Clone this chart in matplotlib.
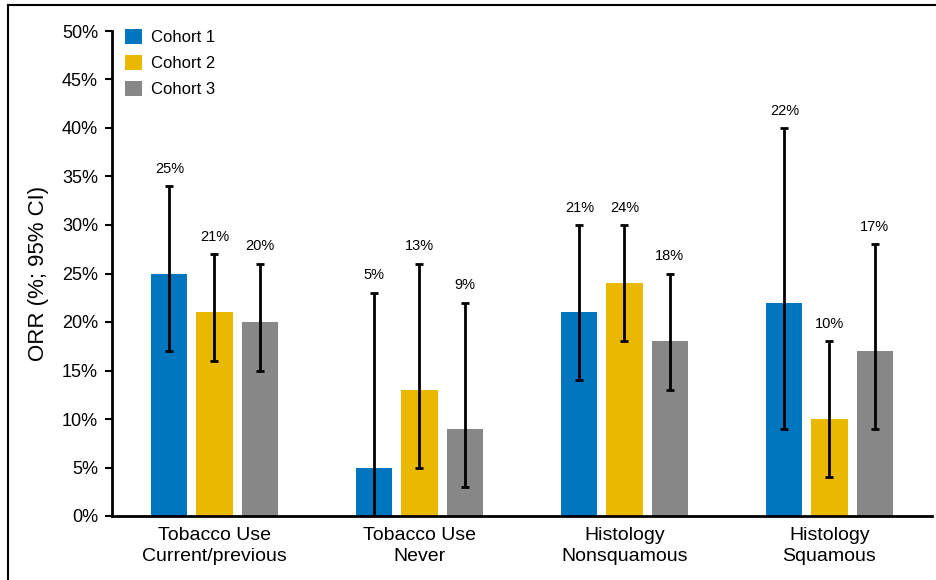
import matplotlib
matplotlib.use("Agg")
import matplotlib.pyplot as plt
from matplotlib.lines import Line2D
import numpy as np

categories = ["Tobacco Use\nCurrent/previous", "Tobacco Use\nNever",
              "Histology\nNonsquamous", "Histology\nSquamous"]
cohorts = ["Cohort 1", "Cohort 2", "Cohort 3"]
orr = [
    [25, 5, 21, 22],
    [21, 13, 24, 10],
    [20, 9, 18, 17],
]
ci_low = [
    [17, 0, 14, 9],
    [16, 5, 18, 4],
    [15, 3, 13, 9],
]
ci_high = [
    [34, 23, 30, 40],
    [27, 26, 30, 18],
    [26, 22, 25, 28],
]
yticks = [0, 5, 10, 15, 20, 25, 30, 35, 40, 45, 50]
colors = ["#0175BE", "#EBB800", "#878787"]

plt.rcParams['font.family'] = ['Liberation Sans', 'DejaVu Sans']

fig = plt.figure(figsize=(9.37, 5.8), dpi=100)
ax = fig.add_axes([112/937, 1-516/580, (932-112)/937, (516-31)/580])

x = np.arange(len(categories))
width = 0.176
pitch = 0.22
for i, c in enumerate(cohorts):
    xs = x + (i - 1) * pitch
    vals = np.array(orr[i])
    lo = vals - np.array(ci_low[i])
    hi = np.array(ci_high[i]) - vals
    ax.bar(xs, vals, width, color=colors[i], label=c, zorder=2)
    ax.errorbar(xs, vals, yerr=[lo, hi], fmt='none', ecolor='black',
                elinewidth=2, capsize=3, capthick=2, zorder=3)
    for xx, v, h in zip(xs, vals, ci_high[i]):
        ax.annotate(f"{v}%", (xx, h), xytext=(0, 7.5), textcoords='offset points',
                    ha='center', va='bottom', fontsize=10.5)

ax.set_xlim(-0.5, 3.5)
ax.set_ylim(0, 50)
ax.set_yticks(yticks)
ax.set_yticklabels([f"{t}%" for t in yticks], fontsize=13)
ax.set_xticks(x)
ax.set_xticklabels(categories, fontsize=14, linespacing=1.3)
ax.tick_params(axis='x', length=0, pad=8)
ax.tick_params(axis='y', length=5, width=1.5, pad=5, direction='out')
for s in ['top', 'right']:
    ax.spines[s].set_visible(False)
for s in ['left', 'bottom']:
    ax.spines[s].set_linewidth(2)

ax.set_ylabel("ORR (%; 95% CI)", fontsize=16,
              family=['Liberation Sans Narrow', 'Liberation Sans', 'DejaVu Sans'],
              labelpad=9)

leg = ax.legend(loc='upper left', bbox_to_anchor=(0.008, 1.018), frameon=False,
                fontsize=12, handlelength=1.0, handleheight=1.0,
                handletextpad=0.55, labelspacing=0.6, borderaxespad=0)

# outer frame lines (top and left)
fig.add_artist(Line2D([8/937, 1], [1-5/580, 1-5/580], color='black', lw=1.5,
                      transform=fig.transFigure))
fig.add_artist(Line2D([8/937, 8/937], [0, 1-5/580], color='black', lw=1.5,
                      transform=fig.transFigure))

fig.savefig("out.png", dpi=100)
